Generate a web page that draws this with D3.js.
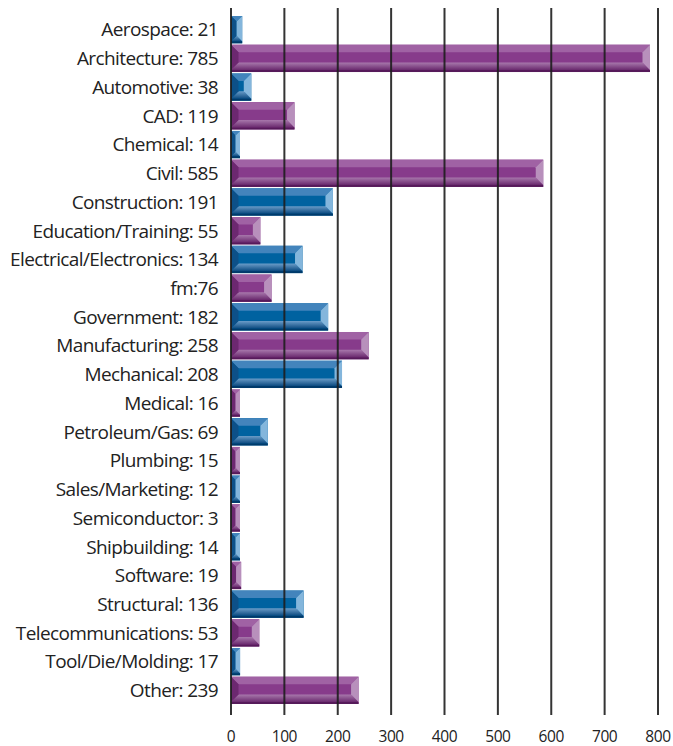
<!DOCTYPE html>
<html><head><meta charset="utf-8">
<script src="https://cdn.jsdelivr.net/npm/d3@7"></script>
<style>body{margin:0;background:#fff}svg{display:block}</style>
</head><body>
<svg id="c" width="673" height="746"></svg>
<script>
const categories = ["Aerospace","Architecture","Automotive","CAD","Chemical","Civil","Construction","Education/Training","Electrical/Electronics","fm","Government","Manufacturing","Mechanical","Medical","Petroleum/Gas","Plumbing","Sales/Marketing","Semiconductor","Shipbuilding","Software","Structural","Telecommunications","Tool/Die/Molding","Other"];
const values = [21,785,38,119,14,585,191,55,134,76,182,258,208,16,69,15,12,3,14,19,136,53,17,239];
const separators = [": ",": ",": ",": ",": ",": ",": ",": ",": ",":",": ",": ",": ",": ",": ",": ",": ",": ",": ",": ",": ",": ",": ",": "];
const ticks = [0,100,200,300,400,500,600,700,800];

const palettes = {
  blue:   {inner:"#0062a0", top:"#4384bc", left:"#0d5088", right:"#84b6dc", b1:"#6a9cc8", b2:"#0b4a80", strip:"#003a6a"},
  purple: {inner:"#873b8b", top:"#a062a4", left:"#6c2870", right:"#b890bc", b1:"#a878ac", b2:"#6a2a6e", strip:"#561a5a"}
};

const svg = d3.select("#c");
const x = d3.scaleLinear().domain([0,800]).range([231,658]);
const y = d3.scaleBand().domain(categories).range([16,704]).paddingInner(0.05);
const minBarPx = 9;

const defs = svg.append("defs");
Object.entries(palettes).forEach(([k,p])=>{
  const g = defs.append("linearGradient").attr("id","bot-"+k).attr("x1",0).attr("y1",0).attr("x2",0).attr("y2",1);
  g.append("stop").attr("offset","0%").attr("stop-color",p.b1);
  g.append("stop").attr("offset","100%").attr("stop-color",p.b2);
});

const bars = svg.append("g");
categories.forEach((c,i)=>{
  const p = i%2===0 ? palettes.blue : palettes.purple;
  const key = i%2===0 ? "blue" : "purple";
  const x0 = x(0);
  const x1 = Math.max(x(values[i]), x0 + minBarPx);
  const y0 = y(c), h = y.bandwidth();
  const strip = 2;
  const y1 = y0 + h - strip;
  const w = x1 - x0;
  const bv = Math.min(7.5, w/2, (y1-y0)/2);
  const g = bars.append("g");
  g.append("rect").attr("x",x0).attr("y",y0).attr("width",w).attr("height",h).attr("fill",p.inner);
  const pt = a=>a.map(q=>q.join(",")).join(" ");
  g.append("polygon").attr("points",pt([[x0,y0],[x1,y0],[x1-bv,y0+bv],[x0+bv,y0+bv]])).attr("fill",p.top);
  g.append("polygon").attr("points",pt([[x0,y1],[x1,y1],[x1-bv,y1-bv],[x0+bv,y1-bv]])).attr("fill","url(#bot-"+key+")");
  g.append("polygon").attr("points",pt([[x0,y0],[x0+bv,y0+bv],[x0+bv,y1-bv],[x0,y1]])).attr("fill",p.left);
  g.append("polygon").attr("points",pt([[x1,y0],[x1-bv,y0+bv],[x1-bv,y1-bv],[x1,y1]])).attr("fill",p.right);
  g.append("rect").attr("x",x0).attr("y",y1).attr("width",w).attr("height",strip).attr("fill",p.strip);
});

svg.append("g").selectAll("line").data(ticks).join("line")
  .attr("x1",d=>x(d)).attr("x2",d=>x(d)).attr("y1",8).attr("y2",715)
  .attr("stroke","#1e1e1e").attr("stroke-width",2).attr("stroke-opacity",0.9);

svg.append("g").selectAll("text").data(ticks).join("text")
  .attr("x",d=>x(d)).attr("y",742).attr("text-anchor","middle")
  .attr("font-family","Open Sans, sans-serif").attr("font-size",15.5).attr("letter-spacing","-0.4").attr("fill","#222")
  .text(d=>d);

svg.append("g").selectAll("text").data(categories).join("text")
  .attr("x",218).attr("y",d=>y(d)+y.bandwidth()/2).attr("dy","0.36em")
  .attr("text-anchor","end").attr("font-family","Open Sans, sans-serif").attr("font-size",19)
  .attr("letter-spacing","-0.6").attr("fill","#222")
  .text((d,i)=>d+separators[i]+values[i]);
</script>
</body></html>
